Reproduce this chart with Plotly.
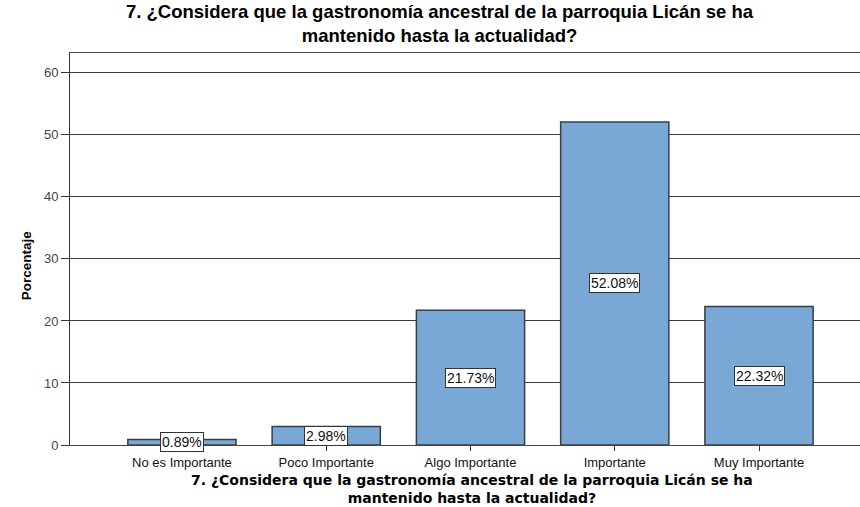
import plotly.graph_objects as go

categories = ["No es Importante", "Poco Importante", "Algo Importante", "Importante", "Muy Importante"]
values = [0.89, 2.98, 21.73, 52.08, 22.32]
labels = ["0.89%", "2.98%", "21.73%", "52.08%", "22.32%"]
y_ticks = [0, 10, 20, 30, 40, 50, 60]

title_text = "7. ¿Considera que la gastronomía ancestral de la parroquia Licán se ha<br>mantenido hasta la actualidad?"

fig = go.Figure()
fig.add_trace(go.Bar(
    x=list(range(len(categories))),
    y=values,
    width=0.75,
    marker=dict(color="#7AA8D6", line=dict(color="#3c3c3c", width=1.5)),
    hoverinfo="skip",
))

for i, (v, t) in enumerate(zip(values, labels)):
    fig.add_annotation(
        x=i, y=v / 2, xref="x", yref="y", text=t, showarrow=False,
        font=dict(family="Liberation Sans, Arial", size=14, color="#111"),
        bgcolor="white", bordercolor="#333", borderwidth=1, borderpad=1,
    )

# y-axis title
fig.add_annotation(
    x=0, y=0.457, xref="paper", yref="paper", xshift=-53,
    text="<b>Porcentaje</b>", textangle=-90, showarrow=False,
    font=dict(family="Liberation Sans, Arial", size=13.5, color="#000"),
)

# chart title
fig.add_annotation(
    x=0.468, y=1.0740, xref="paper", yref="paper", xanchor="center", yanchor="middle",
    text="<b>" + title_text + "</b>", showarrow=False,
    font=dict(family="Liberation Sans, Arial", size=18.5, color="#000"),
)

# x-axis title
fig.add_annotation(
    x=0.509, y=-0.1122, xref="paper", yref="paper", xanchor="center", yanchor="middle",
    text="<b>" + title_text + "</b>", showarrow=False,
    font=dict(family="DejaVu Sans, Verdana", size=14, color="#000"),
)

fig.update_layout(
    width=860, height=507,
    margin=dict(l=70, r=0, t=53, b=62),
    paper_bgcolor="white", plot_bgcolor="white",
    showlegend=False,
    xaxis=dict(
        range=[-0.776, 4.70],
        tickmode="array", tickvals=list(range(len(categories))), ticktext=categories,
        ticks="outside", ticklen=5, tickcolor="#333", tickwidth=1,
        showline=True, linecolor="#444", linewidth=1, mirror=True,
        showgrid=False, zeroline=False,
        tickfont=dict(family="Liberation Sans, Arial", size=13, color="#111"),
    ),
    yaxis=dict(
        range=[0, 63.2],
        tickmode="array", tickvals=y_ticks,
        ticks="outside", ticklen=8, tickcolor="#333", tickwidth=1,
        showline=True, linecolor="#333", linewidth=1,
        showgrid=True, gridcolor="#3a3a3a", gridwidth=1,
        zeroline=False,
        tickfont=dict(family="Liberation Sans, Arial", size=13, color="#444"),
    ),
)

fig.write_html("out.html", config={"displayModeBar": False},
               post_script="document.body.style.margin='0';")
